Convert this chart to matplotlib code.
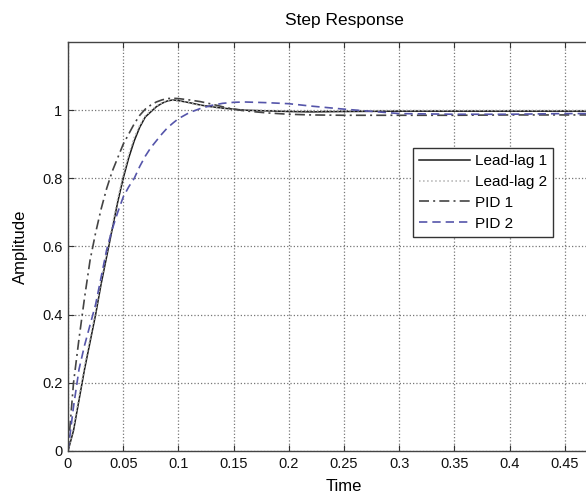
import matplotlib
matplotlib.use("Agg")
import matplotlib.pyplot as plt

plt.rcParams['font.family'] = ['Liberation Sans', 'DejaVu Sans']

time = [0, 0.005, 0.01, 0.015, 0.02, 0.025, 0.03, 0.035, 0.04, 0.045, 0.05,
        0.055, 0.06, 0.065, 0.07, 0.075, 0.08, 0.085, 0.09, 0.095, 0.1,
        0.11, 0.12, 0.13, 0.14, 0.15, 0.16, 0.18, 0.2, 0.22, 0.25, 0.3,
        0.35, 0.4, 0.45, 0.5]

lead_lag_1 = [0, 0.06, 0.15, 0.24, 0.32, 0.40, 0.49, 0.57, 0.65, 0.73, 0.80,
              0.86, 0.91, 0.95, 0.98, 0.995, 1.01, 1.02, 1.027, 1.03, 1.028,
              1.022, 1.015, 1.01, 1.006, 1.003, 1.0, 0.998, 0.996, 0.995, 0.996, 0.997,
              0.997, 0.997, 0.997, 0.997]

lead_lag_2 = [0, 0.07, 0.16, 0.25, 0.33, 0.41, 0.50, 0.58, 0.66, 0.74, 0.81,
              0.87, 0.92, 0.955, 0.983, 0.998, 1.012, 1.021, 1.027, 1.029, 1.027,
              1.021, 1.014, 1.009, 1.005, 1.002, 1.0, 0.999, 0.998, 0.998, 0.998, 0.999,
              0.999, 0.999, 0.999, 0.999]

pid_1 = [0, 0.20, 0.33, 0.45, 0.56, 0.64, 0.71, 0.77, 0.82, 0.86, 0.90,
         0.93, 0.96, 0.985, 1.003, 1.015, 1.024, 1.03, 1.034, 1.035, 1.034,
         1.03, 1.025, 1.018, 1.01, 1.003, 0.998, 0.992, 0.988, 0.986, 0.985, 0.985,
         0.985, 0.986, 0.986, 0.986]

pid_2 = [0, 0.13, 0.24, 0.31, 0.37, 0.43, 0.51, 0.59, 0.65, 0.70, 0.745,
         0.775, 0.80, 0.835, 0.865, 0.89, 0.91, 0.93, 0.948, 0.962, 0.975,
         0.993, 1.005, 1.014, 1.02, 1.023, 1.024, 1.022, 1.019, 1.012, 1.003, 0.99,
         0.988, 0.988, 0.99, 0.99]

labels = ['Lead-lag 1', 'Lead-lag 2', 'PID 1', 'PID 2']
x_ticks = [0, 0.05, 0.1, 0.15, 0.2, 0.25, 0.3, 0.35, 0.4, 0.45]
x_tick_labels = ['0', '0.05', '0.1', '0.15', '0.2', '0.25', '0.3', '0.35', '0.4', '0.45']
y_ticks = [0, 0.2, 0.4, 0.6, 0.8, 1.0]
y_tick_labels = ['0', '0.2', '0.4', '0.6', '0.8', '1']

fig = plt.figure(figsize=(5.86, 4.99), dpi=100)
ax = fig.add_axes([68/586, 48/499, 552/586, 409/499])

ax.plot(time, lead_lag_1, color='#1a1a1a', lw=1.1, ls='-', label=labels[0])
ax.plot(time, lead_lag_2, color='#b0b0b0', lw=1.1, ls=':', label=labels[1])
ax.plot(time, pid_1, color='#444444', lw=1.2, ls=(0, (6, 2.5, 1.2, 2.5)), label=labels[2])
ax.plot(time, pid_2, color='#5555aa', lw=1.2, ls=(0, (5, 3)), label=labels[3])

ax.set_xlim(0, 0.5)
ax.set_ylim(0, 1.2)
ax.set_xticks(x_ticks)
ax.set_xticklabels(x_tick_labels)
ax.set_yticks(y_ticks)
ax.set_yticklabels(y_tick_labels)
ax.tick_params(direction='in', top=True, right=True, length=4, labelsize=10.5,
               colors='#333333', labelcolor='#111111', pad=4)
ax.grid(True, ls=':', color='#777777', lw=0.9)
for s in ax.spines.values():
    s.set_color('#444444')
    s.set_linewidth(1.0)

ax.set_title('Step Response', fontsize=12.5, pad=12)
ax.set_xlabel('Time', fontsize=12, labelpad=6)
ax.set_ylabel('Amplitude', fontsize=12, labelpad=10)

leg = ax.legend(loc='upper left', bbox_to_anchor=(0.625, 0.741), fontsize=11,
                frameon=True, fancybox=False, edgecolor='#333333', framealpha=1,
                handlelength=3.3, handletextpad=0.35, labelspacing=0.45,
                borderpad=0.4, borderaxespad=0)
leg.get_frame().set_linewidth(1.0)

fig.savefig('out.png', dpi=100)
